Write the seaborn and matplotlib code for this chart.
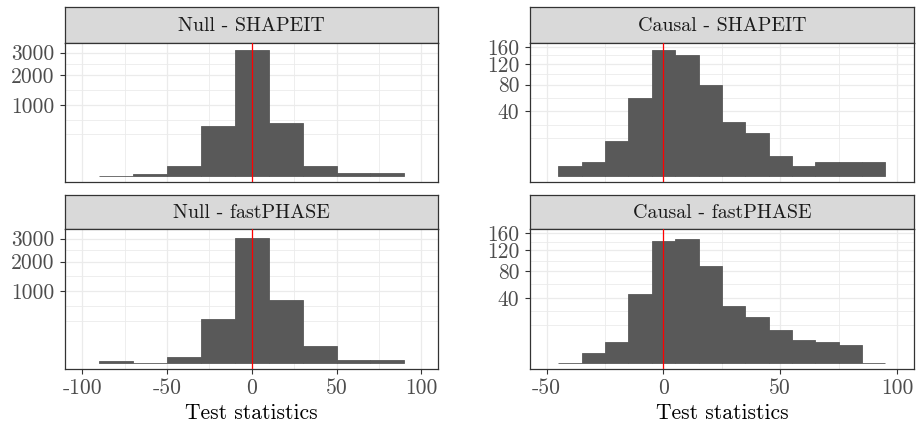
import numpy as np
import pandas as pd
import matplotlib
matplotlib.use("Agg")
import matplotlib.pyplot as plt
import seaborn as sns
from matplotlib.ticker import FixedLocator, FixedFormatter, NullFormatter

# ---------------- data ----------------
null_edges = [-90, -70, -50, -30, -10, 10, 30, 50, 70, 90]
null_shapeit_counts = [0, 1, 21, 497, 3150, 557, 21, 2, 2]
null_fastphase_counts = [1, 0, 8, 374, 3050, 767, 53, 2, 2]

causal_edges = [-45, -35, -25, -15, -5, 5, 15, 25, 35, 45, 55, 65, 75, 85, 95]
causal_shapeit_counts = [1, 2, 12, 58, 153, 141, 79, 28, 18, 4, 1, 2, 2, 2]
causal_fastphase_counts = [0, 1, 4, 45, 140, 145, 89, 31, 20, 10, 5, 4, 3, 0]

null_yticks = [1000, 2000, 3000]
causal_yticks = [40, 80, 120, 160]
null_xticks = [-100, -50, 0, 50, 100]
causal_xticks = [-50, 0, 50, 100]

panel_titles = ["Null - SHAPEIT", "Causal - SHAPEIT", "Null - fastPHASE", "Causal - fastPHASE"]
x_title = "Test statistics"

# ---------------- style ----------------
sns.set_theme(style="white")
plt.rcParams["font.family"] = ["cmr10", "DejaVu Serif"]
plt.rcParams["mathtext.fontset"] = "cm"
plt.rcParams["axes.unicode_minus"] = False
plt.rcParams["axes.formatter.use_mathtext"] = True

BAR = "#595959"
GRID = "#EBEBEB"
FRAME = "#333333"
TICKCOL = "#4D4D4D"

W, H = 919, 429
fig = plt.figure(figsize=(W / 100, H / 100), dpi=100)
fig.patch.set_facecolor("white")


def rect(x0, y0, x1, y1):
    """pixel box (top-left origin) -> figure fraction rect"""
    return [x0 / W, 1 - y1 / H, (x1 - x0) / W, (y1 - y0) / H]


def fwd(v):
    v = np.asarray(v, dtype=float)
    return np.sign(v) * np.sqrt(np.abs(v))


def inv(v):
    v = np.asarray(v, dtype=float)
    return np.sign(v) * v ** 2


cols = [(65.3, 438.3), (529.7, 914.0)]
rows = [((7.3, 43.3), (43.3, 182.3)), ((194.7, 229.3), (229.3, 369.3))]

panels = [
    (null_edges, null_shapeit_counts, null_yticks, null_xticks, (-110, 110)),
    (causal_edges, causal_shapeit_counts, causal_yticks, causal_xticks, (-57.3, 107.3)),
    (null_edges, null_fastphase_counts, null_yticks, null_xticks, (-110, 110)),
    (causal_edges, causal_fastphase_counts, causal_yticks, causal_xticks, (-57.3, 107.3)),
]

# y range shared within each column (Null / Causal)
col_max = [max(max(null_shapeit_counts), max(null_fastphase_counts)),
           max(max(causal_shapeit_counts), max(causal_fastphase_counts))]

for i, (edges, counts, yt, xt, xlim) in enumerate(panels):
    r, c = divmod(i, 2)
    (sy0, sy1), (py0, py1) = rows[r]
    x0, x1 = cols[c]

    # strip
    sax = fig.add_axes(rect(x0, sy0, x1, sy1))
    sax.set_facecolor("#D9D9D9")
    sax.set_xticks([])
    sax.set_yticks([])
    for s in sax.spines.values():
        s.set_color(FRAME)
        s.set_linewidth(0.9)
    sax.text(0.5, 0.47, panel_titles[i], ha="center", va="center",
             fontsize=14.4, color="#1A1A1A", transform=sax.transAxes)

    # panel
    ax = fig.add_axes(rect(x0, py0, x1, py1))
    ax.set_facecolor("white")
    e = [float(v) for v in edges]
    df = pd.DataFrame({
        "x": [(a + b) / 2 for a, b in zip(e[:-1], e[1:])],
        "w": [float(v) for v in counts],
    })
    sns.histplot(data=df, x="x", weights="w", bins=e, ax=ax,
                 color=BAR, alpha=1, edgecolor=BAR, linewidth=0.6, zorder=2)
    ax.axvline(0, color="red", lw=0.9, zorder=3)

    ax.set_yscale("function", functions=(fwd, inv))
    smax = np.sqrt(col_max[c])
    ax.set_ylim(-(0.05 * smax) ** 2, (1.05 * smax) ** 2)
    ax.set_xlim(*xlim)

    # major / minor y breaks on the sqrt scale (ggplot style)
    b = np.sqrt(np.asarray(yt, dtype=float))
    seq = np.concatenate([[b[0] - (b[1] - b[0])], b])
    mids = (seq[:-1] + seq[1:]) / 2
    yminor = np.concatenate([[seq[0]], mids]) ** 2
    ax.yaxis.set_major_locator(FixedLocator(yt))
    ax.yaxis.set_major_formatter(FixedFormatter([str(v) for v in yt]))
    ax.yaxis.set_minor_locator(FixedLocator(yminor))
    ax.yaxis.set_minor_formatter(NullFormatter())

    xt_arr = np.asarray(xt, dtype=float)
    xminor = (xt_arr[:-1] + xt_arr[1:]) / 2
    ax.xaxis.set_major_locator(FixedLocator(xt))
    ax.xaxis.set_minor_locator(FixedLocator(xminor))
    ax.xaxis.set_minor_formatter(NullFormatter())
    if r == 1:
        ax.xaxis.set_major_formatter(FixedFormatter([str(v) for v in xt]))
        ax.set_xlabel(x_title, fontsize=15.5, color="black", labelpad=3.5)
        ax.tick_params(axis="x", which="major", bottom=True, length=3.5,
                       width=0.8, color=FRAME, labelsize=15.5,
                       labelcolor=TICKCOL, pad=3.4)
    else:
        ax.xaxis.set_major_formatter(NullFormatter())
        ax.tick_params(axis="x", which="major", bottom=False)
        ax.set_xlabel("")
    ax.tick_params(axis="x", which="minor", bottom=False)
    ax.tick_params(axis="y", which="major", left=True, length=3.8, width=0.8,
                   color=FRAME, labelsize=15.5, labelcolor=TICKCOL, pad=3.8)
    ax.tick_params(axis="y", which="minor", left=False)
    ax.set_ylabel("")

    ax.grid(True, which="major", color=GRID, lw=0.9, zorder=0)
    ax.grid(True, which="minor", color=GRID, lw=0.6, zorder=0)
    ax.set_axisbelow(True)
    for s in ax.spines.values():
        s.set_visible(True)
        s.set_color(FRAME)
        s.set_linewidth(0.9)
    for lab in ax.get_yticklabels():
        lab.set_verticalalignment("center_baseline")

fig.savefig("out.png", dpi=100, facecolor="white")
